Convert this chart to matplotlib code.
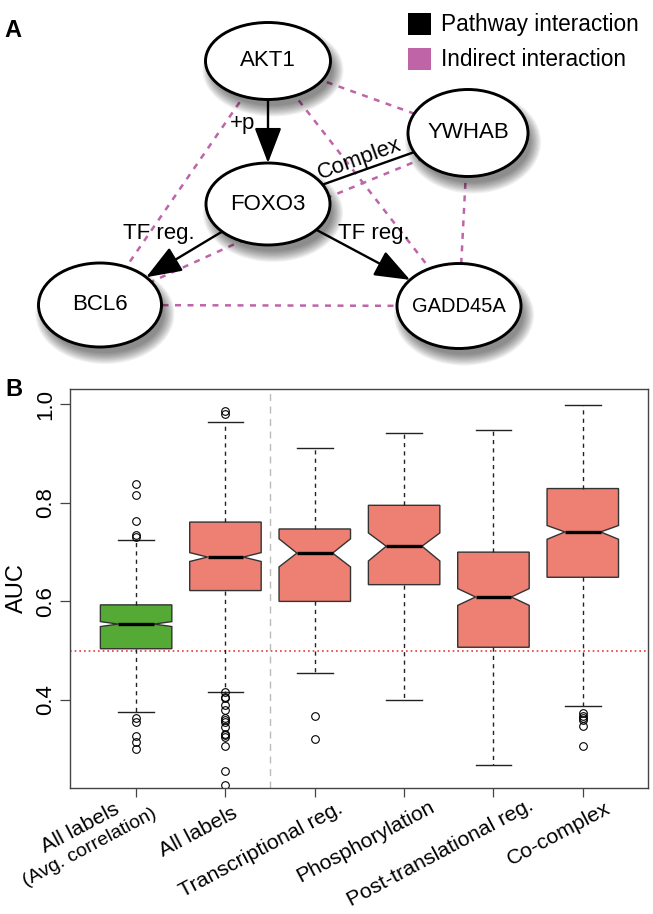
import numpy as np
import matplotlib
matplotlib.use('Agg')
import matplotlib.pyplot as plt
from matplotlib.patches import Ellipse, Rectangle, FancyArrowPatch

plt.rcParams['font.family'] = ['Liberation Sans', 'DejaVu Sans']

# ---------------- data: panel A (network) ----------------
node_names = ['AKT1', 'YWHAB', 'FOXO3', 'BCL6', 'GADD45A']
pathway_edges = [('AKT1', 'FOXO3', '+p', True),
                 ('FOXO3', 'YWHAB', 'Complex', False),
                 ('FOXO3', 'BCL6', 'TF reg.', True),
                 ('FOXO3', 'GADD45A', 'TF reg.', True)]
indirect_edges = [('AKT1', 'YWHAB'), ('AKT1', 'BCL6'), ('AKT1', 'GADD45A'),
                  ('FOXO3', 'YWHAB'), ('FOXO3', 'BCL6'),
                  ('BCL6', 'GADD45A'), ('YWHAB', 'GADD45A')]
legend_labels = ['Pathway interaction', 'Indirect interaction']

# ---------------- data: panel B (boxplot, AUC) ----------------
categories = ['All labels', 'All labels', 'Transcriptional reg.', 'Phosphorylation',
              'Post-translational reg.', 'Co-complex']
sub_labels = ['(Avg. correlation)', '', '', '', '', '']
q1 = [0.504, 0.622, 0.600, 0.634, 0.507, 0.649]
med = [0.554, 0.690, 0.698, 0.712, 0.609, 0.741]
q3 = [0.593, 0.761, 0.747, 0.795, 0.700, 0.829]
ci_lo = [0.549, 0.681, 0.670, 0.682, 0.592, 0.726]
ci_hi = [0.559, 0.699, 0.727, 0.739, 0.626, 0.754]
whis_lo = [0.375, 0.417, 0.454, 0.399, 0.269, 0.387]
whis_hi = [0.725, 0.965, 0.912, 0.941, 0.947, 0.999]
outliers = [
    [0.839, 0.815, 0.763, 0.735, 0.730, 0.364, 0.355, 0.327, 0.314, 0.300],
    [0.986, 0.980, 0.416, 0.406, 0.404, 0.390, 0.380, 0.363, 0.360, 0.356,
     0.345, 0.331, 0.328, 0.324, 0.307, 0.256, 0.228],
    [0.367, 0.321],
    [],
    [],
    [0.374, 0.367, 0.363, 0.360, 0.347, 0.307],
]
chance_level = 0.5

# ---------------- layout / style ----------------
W, H = 653, 914
GREEN = '#55aa36'
SALMON = '#ee7f73'
MAGENTA = '#c064a8'
# node layout in pixels: center x, center y, width, height
layout = {'AKT1': (268, 61, 125, 77), 'YWHAB': (468, 133, 120, 87),
          'FOXO3': (268, 204, 124, 82), 'BCL6': (100, 305, 123, 84),
          'GADD45A': (459, 306, 124, 85)}
node_fs = {'GADD45A': 14.5}
edge_label_pos = {'+p': (243, 124, 0), 'Complex': (359, 159, 20),
                  'TF reg.': [(159, 234, 0), (374, 233, 0)]}
dash_offsets = {('FOXO3', 'YWHAB'): ((0, 18), (0, 7)), ('FOXO3', 'BCL6'): ((0, 25), (0, 0))}

fig = plt.figure(figsize=(W / 100, H / 100), dpi=100)

# ================= panel A =================
axA = fig.add_axes([0, 1 - 370 / H, 1, 370 / H])
axA.set_xlim(0, W)
axA.set_ylim(370, 0)
axA.axis('off')


def boundary(name, toward):
    cx, cy, w, h = layout[name]
    d = np.array(toward, float) - np.array([cx, cy])
    d /= np.hypot(*d)
    t = 1 / np.sqrt((d[0] / (w / 2)) ** 2 + (d[1] / (h / 2)) ** 2)
    return cx + d[0] * t, cy + d[1] * t


# indirect (dashed) edges, drawn under the nodes
for a, b in indirect_edges:
    oa, ob = dash_offsets.get((a, b), ((0, 0), (0, 0)))
    xa, ya = layout[a][0] + oa[0], layout[a][1] + oa[1]
    xb, yb = layout[b][0] + ob[0], layout[b][1] + ob[1]
    axA.plot([xa, xb], [ya, yb], color=MAGENTA, lw=1.8, dashes=(2.4, 2.6), zorder=1)

# pathway edges
tf_i = 0
for a, b, lab, arrow in pathway_edges:
    pa = boundary(a, layout[b][:2])
    pb = boundary(b, layout[a][:2])
    if arrow:
        arr = FancyArrowPatch(pa, pb, arrowstyle='-|>,head_length=1.1,head_width=0.42',
                              mutation_scale=20, lw=1.7, color='black',
                              shrinkA=0, shrinkB=0, zorder=2)
        axA.add_patch(arr)
    else:
        axA.plot([pa[0], pb[0]], [pa[1], pb[1]], color='black', lw=1.7, zorder=2)
    p = edge_label_pos[lab]
    if isinstance(p, list):
        p = p[tf_i]
        tf_i += 1
    axA.text(p[0], p[1], lab, fontsize=16, ha='center', va='center', rotation=p[2], zorder=5)

# nodes with soft drop shadow
for name in node_names:
    cx, cy, w, h = layout[name]
    for k in range(10):
        axA.add_patch(Ellipse((cx + 5, cy + 9), w + 16 - 2.4 * k, h + 16 - 2.4 * k,
                              color='black', alpha=0.055, lw=0, zorder=3))
    axA.add_patch(Ellipse((cx, cy), w, h, facecolor='white', edgecolor='black',
                          lw=2.1, zorder=4))
    axA.text(cx, cy, name, fontsize=node_fs.get(name, 16), ha='center', va='center', zorder=5)

# legend
for i, (lab, col) in enumerate(zip(legend_labels, ['black', MAGENTA])):
    y0 = 13 + 35 * i
    axA.add_patch(Rectangle((408, y0), 23, 22, color=col, lw=0))
    axA.text(441, y0 + 11, lab, fontsize=16.3, ha='left', va='center')

fig.text(4 / W, 1 - 37 / H, 'A', fontsize=17, fontweight='bold', ha='left', va='baseline')

# ================= panel B =================
axB = fig.add_axes([70 / W, 1 - 788 / H, (648 - 70) / W, (788 - 389) / H])
positions = np.arange(1, len(categories) + 1)
stats = []
for i in range(len(categories)):
    stats.append(dict(q1=q1[i], med=med[i], q3=q3[i], cilo=ci_lo[i], cihi=ci_hi[i],
                      whislo=whis_lo[i], whishi=whis_hi[i], fliers=outliers[i]))

bp = axB.bxp(stats, positions=positions, widths=0.8, shownotches=True, patch_artist=True,
             boxprops=dict(edgecolor='#333333', linewidth=1.0),
             whiskerprops=dict(color='#222222', linewidth=1.0, linestyle=(0, (3, 3))),
             capprops=dict(color='#222222', linewidth=1.0),
             medianprops=dict(color='black', linewidth=2.4),
             flierprops=dict(marker='o', markerfacecolor='none', markeredgecolor='black',
                             markersize=5.5, markeredgewidth=0.8))
for i, box in enumerate(bp['boxes']):
    box.set_facecolor(GREEN if i == 0 else SALMON)

axB.axhline(chance_level, color='#e8383d', lw=1.2, linestyle=(0, (1, 1.8)), zorder=0)
axB.axvline(2.5, color='#bbbbbb', lw=1.0, linestyle=(0, (5, 4)), zorder=0)

axB.set_xlim(0.26, 6.73)
axB.set_ylim(0.2214, 1.031)
axB.set_yticks([0.4, 0.6, 0.8, 1.0])
axB.set_yticklabels(['0.4', '0.6', '0.8', '1.0'], rotation=90, va='center', fontsize=16)
axB.set_xticks(positions)
axB.set_xticklabels([''] * len(positions))
axB.tick_params(axis='y', direction='out', length=7, width=0.9, color='#444444', pad=3)
axB.tick_params(axis='x', direction='out', length=6.5, width=0.9, color='#444444')
for s in axB.spines.values():
    s.set_color('#444444')
    s.set_linewidth(1.0)
axB.set_ylabel('AUC', fontsize=17, labelpad=5)

# rotated category labels (end point offsets in pixels from tick)
label_dx = [-16, 13, 29, 32, 41, 29]
label_dy = [-25, -29, -24, -22, -21, -24]
for i, lab in enumerate(categories):
    axB.annotate(lab, xy=(positions[i], 0), xycoords=('data', 'axes fraction'),
                 xytext=(label_dx[i] * 0.72, label_dy[i] * 0.72), textcoords='offset points',
                 rotation=28, rotation_mode='anchor', ha='right', va='baseline',
                 fontsize=15.4, annotation_clip=False)
    if sub_labels[i]:
        axB.annotate(sub_labels[i], xy=(positions[i], 0), xycoords=('data', 'axes fraction'),
                     xytext=(21 * 0.72, -29 * 0.72), textcoords='offset points',
                     rotation=28, rotation_mode='anchor', ha='right', va='baseline',
                     fontsize=14, annotation_clip=False)

fig.text(5 / W, 1 - 396 / H, 'B', fontsize=17, fontweight='bold', ha='left', va='baseline')

fig.savefig('out.png', dpi=100)
